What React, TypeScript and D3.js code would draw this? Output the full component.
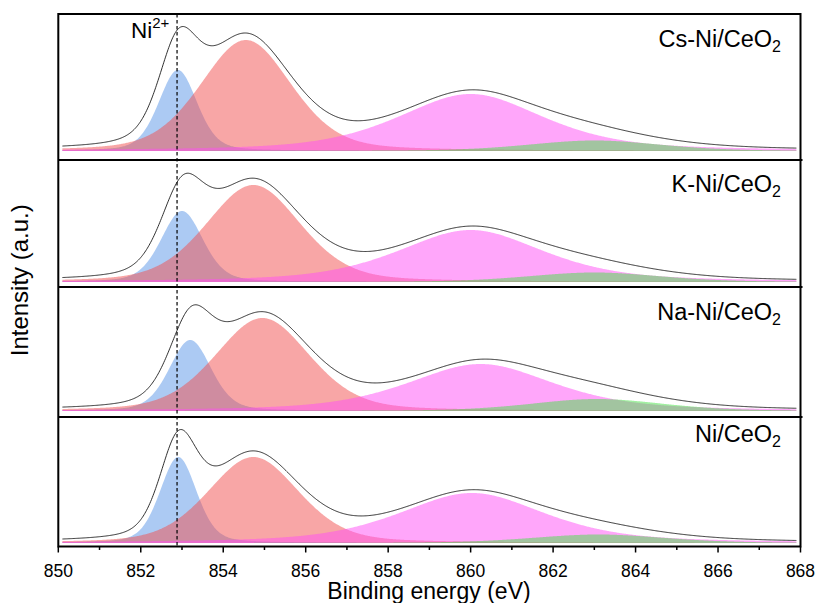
import React from "react";
import * as d3 from "d3";

// Sample names (subscript "2" added when drawing)
const samples = ["Cs-Ni/CeO", "K-Ni/CeO", "Na-Ni/CeO", "Ni/CeO"];

// Fitted peak parameters: centre (eV), height (a.u.), FWHM (eV), Lorentzian fraction
const ni2Center = [852.9, 853.0, 853.2, 852.91];
const ni2Height = [81, 71, 71, 86];
const ni2Fwhm = [1.1, 1.2, 1.2, 1.05];
const ni2Mix = [0.3, 0.3, 0.3, 0.3];

const mainCenter = [854.55, 854.73, 854.95, 854.73];
const mainHeight = [111, 97, 93, 86];
const mainFwhm = [2.6, 2.7, 2.7, 2.6];
const mainMix = [0.3, 0.3, 0.3, 0.3];

const sat1Center = [860.0, 860.0, 860.24, 860.03];
const sat1Height = [57, 52, 47, 50];
const sat1Fwhm = [4.2, 4.2, 4.2, 4.2];
const sat1Mix = [0.55, 0.55, 0.55, 0.55];

const sat2Center = [863.0, 863.0, 863.07, 863.1];
const sat2Height = [10.5, 9.5, 12, 8.5];
const sat2Fwhm = [3.8, 3.8, 3.8, 3.8];
const sat2Mix = [0.3, 0.3, 0.3, 0.3];

const ni2Line = 852.88;

const majorTicks = [850, 852, 854, 856, 858, 860, 862, 864, 866, 868];
const minorTicks = [851, 853, 855, 857, 859, 861, 863, 865, 867];

// layout
const W = 819;
const H = 603;
const left = 58.3;
const right = 800.5;
const panelTops = [14, 160, 287, 417];
const panelBottoms = [160, 287, 417, 546.5];
const baselines = [151, 282, 411, 543];
const labelY = [47, 192, 320, 442];

const colors: Record<string, string> = {
  ni2: "rgba(90,150,232,0.5)",
  main: "rgba(242,78,78,0.5)",
  sat1: "rgba(255,78,245,0.5)",
  sat2: "rgba(70,225,70,0.5)",
};

function pv(x: number, c: number, h: number, w: number, m: number) {
  const u = (2 * (x - c)) / w;
  const g = Math.exp(-Math.log(2) * u * u);
  const l = 1 / (1 + u * u);
  return h * ((1 - m) * g + m * l);
}

const grid = d3.range(850.1, 867.9001, 0.02);

export default function App() {
  const x = d3.scaleLinear().domain([850, 868]).range([left, right]);

  const panels = samples.map((name, i) => {
    const y = d3.scaleLinear().domain([0, 100]).range([baselines[i], baselines[i] - 100]);
    const comps = [
      { key: "ni2", c: ni2Center[i], h: ni2Height[i], w: ni2Fwhm[i], m: ni2Mix[i] },
      { key: "main", c: mainCenter[i], h: mainHeight[i], w: mainFwhm[i], m: mainMix[i] },
      { key: "sat1", c: sat1Center[i], h: sat1Height[i], w: sat1Fwhm[i], m: sat1Mix[i] },
      { key: "sat2", c: sat2Center[i], h: sat2Height[i], w: sat2Fwhm[i], m: sat2Mix[i] },
    ];
    const area = d3
      .area<number[]>()
      .x((d) => x(d[0]))
      .y0(y(0))
      .y1((d) => y(d[1]));
    const line = d3
      .line<number[]>()
      .x((d) => x(d[0]))
      .y((d) => y(d[1]));
    const compPaths = comps.map((cp) => ({
      key: cp.key,
      d: area(grid.map((e) => [e, pv(e, cp.c, cp.h, cp.w, cp.m)])) as string,
    }));
    const sum = grid.map((e) => [e, comps.reduce((s, cp) => s + pv(e, cp.c, cp.h, cp.w, cp.m), 0)]);
    return { name, i, compPaths, sumD: line(sum) as string };
  });

  const font = "Arial, 'Liberation Sans', Helvetica, sans-serif";
  const axisY = panelBottoms[3];

  return (
    <svg
      width={W}
      height={H}
      style={{ position: "absolute", left: 0, top: 0, background: "#fff" }}
      fontFamily={font}
    >
      <rect x={0} y={0} width={W} height={H} fill="#fff" />
      {panels.map((p) => (
        <g key={p.name}>
          {p.compPaths.map((cp) => (
            <path key={cp.key} d={cp.d} fill={colors[cp.key]} stroke="none" />
          ))}
          <path d={p.sumD} fill="none" stroke="#1a1a1a" strokeWidth={0.9} />
          <text x={781} y={labelY[p.i]} fontSize={23.5} textAnchor="end" fill="#000">
            {p.name}
            <tspan fontSize={16} dy={5}>2</tspan>
          </text>
        </g>
      ))}
      {/* dashed Ni2+ line */}
      <line
        x1={x(ni2Line)}
        x2={x(ni2Line)}
        y1={panelTops[0]}
        y2={axisY}
        stroke="#000"
        strokeWidth={1.2}
        strokeDasharray="3.5,2.5"
      />
      <text x={131} y={38} fontSize={22.5} fill="#000">
        Ni
        <tspan fontSize={15} dy={-10}>2+</tspan>
      </text>
      {/* panel separators */}
      {panelBottoms.slice(0, 3).map((b, k) => (
        <line key={k} x1={left} x2={right + 2} y1={b} y2={b} stroke="#000" strokeWidth={2} />
      ))}
      {/* frame */}
      <rect
        x={left}
        y={panelTops[0]}
        width={right - left}
        height={axisY - panelTops[0]}
        fill="none"
        stroke="#000"
        strokeWidth={2}
      />
      {/* ticks */}
      {majorTicks.map((t) => (
        <g key={t}>
          <line x1={x(t)} x2={x(t)} y1={axisY} y2={axisY + 6} stroke="#000" strokeWidth={1.5} />
          <text x={x(t)} y={577} fontSize={17.5} textAnchor="middle" fill="#000">
            {t}
          </text>
        </g>
      ))}
      {minorTicks.map((t) => (
        <line key={t} x1={x(t)} x2={x(t)} y1={axisY} y2={axisY + 3.5} stroke="#000" strokeWidth={1.5} />
      ))}
      <text x={429} y={599} fontSize={23} textAnchor="middle" fill="#000">
        Binding energy (eV)
      </text>
      <text
        transform={`translate(28,${(panelTops[0] + axisY) / 2}) rotate(-90)`}
        fontSize={24}
        textAnchor="middle"
        fill="#000"
      >
        Intensity (a.u.)
      </text>
    </svg>
  );
}
